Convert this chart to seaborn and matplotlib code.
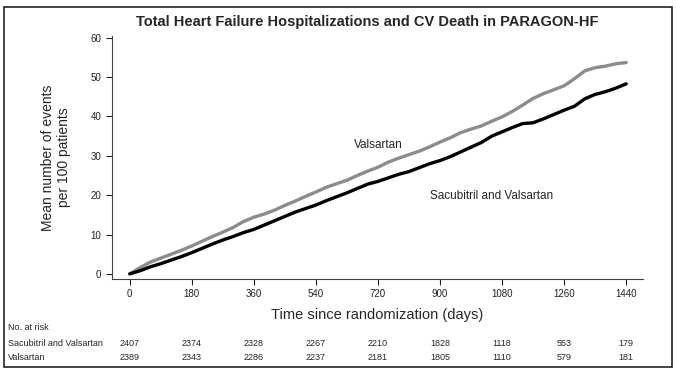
import matplotlib
matplotlib.use("Agg")
import matplotlib.pyplot as plt
import matplotlib.transforms as mtransforms
import pandas as pd
import seaborn as sns

# days since randomization (every 30 days)
days = list(range(0, 1441, 30))

valsartan = [0, 1.6, 3.0, 4.0, 5.0, 6.0, 7.1, 8.3, 9.5, 10.6, 11.8, 13.3, 14.4,
             15.2, 16.2, 17.4, 18.5, 19.7, 20.8, 22.0, 22.9, 23.8, 25.0, 26.1, 27.1,
             28.4, 29.4, 30.3, 31.2, 32.3, 33.5, 34.6, 35.9, 36.8, 37.6, 38.8, 39.9,
             41.3, 42.9, 44.6, 45.8, 46.8, 47.8, 49.6, 51.6, 52.4, 52.8, 53.4, 53.7]

sacubitril = [0, 0.8, 1.8, 2.6, 3.5, 4.4, 5.4, 6.5, 7.6, 8.6, 9.5, 10.5, 11.3,
              12.4, 13.5, 14.6, 15.7, 16.6, 17.5, 18.6, 19.6, 20.6, 21.7, 22.8, 23.5,
              24.4, 25.3, 26.0, 27.0, 28.0, 28.8, 29.8, 31.0, 32.2, 33.4, 35.0, 36.1,
              37.2, 38.2, 38.4, 39.4, 40.5, 41.6, 42.6, 44.5, 45.6, 46.3, 47.2, 48.3]

tick_days = [0, 180, 360, 540, 720, 900, 1080, 1260, 1440]
risk_sac = [2407, 2374, 2328, 2267, 2210, 1828, 1118, 553, 179]
risk_val = [2389, 2343, 2286, 2237, 2181, 1805, 1110, 579, 181]

df = pd.DataFrame({
    "day": days + days,
    "events": valsartan + sacubitril,
    "arm": ["Valsartan"] * len(days) + ["Sacubitril and Valsartan"] * len(days),
})

sns.set_style("ticks")
plt.rcParams["font.family"] = ["Liberation Sans", "DejaVu Sans"]

fig = plt.figure(figsize=(6.78, 3.77), dpi=100)
ax = fig.add_axes([0.165, 0.26, 0.783, 0.645])

sns.lineplot(data=df, x="day", y="events", hue="arm",
             palette={"Valsartan": "#8c8c8c", "Sacubitril and Valsartan": "black"},
             linewidth=2.4, legend=False, ax=ax)

ax.set_xlim(-52, 1488)
ax.set_ylim(-1.3, 60.5)
ax.set_xticks(tick_days)
ax.set_yticks([0, 10, 20, 30, 40, 50, 60])
ax.tick_params(labelsize=7, length=4, width=0.8, colors="#222222")
sns.despine(ax=ax)
for s in ["left", "bottom"]:
    ax.spines[s].set_linewidth(0.8)
    ax.spines[s].set_color("#444444")

ax.set_xlabel("Time since randomization (days)", fontsize=10.5, labelpad=6)
ax.set_ylabel("Mean number of events\nper 100 patients", fontsize=10, labelpad=14)
fig.text(367 / 678, 1 - 22 / 377,
         "Total Heart Failure Hospitalizations and CV Death in PARAGON-HF",
         fontsize=10.5, fontweight="bold", ha="center", va="center")

ax.text(720, 32.7, "Valsartan", fontsize=8.5, ha="center", va="center")
ax.text(1050, 19.8, "Sacubitril and Valsartan", fontsize=8.5, ha="center", va="center")

# number at risk table
fig.text(8 / 678, 1 - 328 / 377, "No. at risk", fontsize=6.5, va="center")
fig.text(8 / 678, 1 - 343 / 377, "Sacubitril and Valsartan", fontsize=6.5, va="center")
fig.text(8 / 678, 1 - 357 / 377, "Valsartan", fontsize=6.5, va="center")
trans = mtransforms.blended_transform_factory(ax.transData, fig.transFigure)
for d, a, b in zip(tick_days, risk_sac, risk_val):
    ax.text(d, 1 - 343 / 377, str(a), transform=trans, fontsize=6.5,
            ha="center", va="center", clip_on=False)
    ax.text(d, 1 - 357 / 377, str(b), transform=trans, fontsize=6.5,
            ha="center", va="center", clip_on=False)

fig.add_artist(plt.Rectangle((4 / 678, 10 / 377), 668 / 678, 360 / 377,
                             transform=fig.transFigure, fill=False,
                             edgecolor="#222222", linewidth=1.2))

fig.savefig("out.png", dpi=100)
